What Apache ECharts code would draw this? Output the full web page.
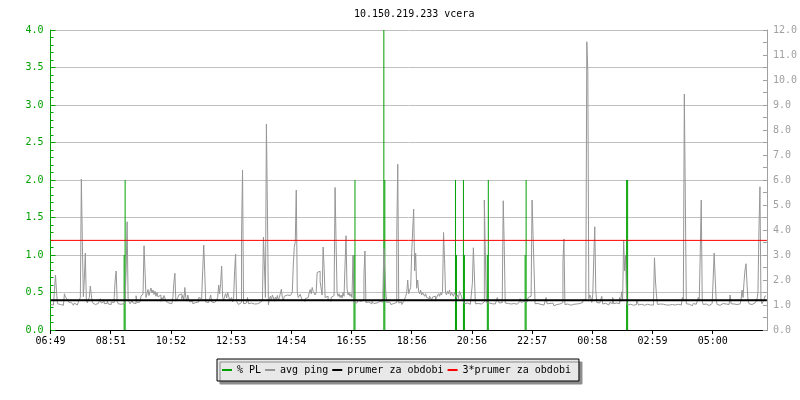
<!DOCTYPE html>
<html>
<head>
<meta charset="utf-8">
<script src="https://cdn.jsdelivr.net/npm/echarts@6/dist/echarts.min.js"></script>
<style>
html,body{margin:0;padding:0;background:#fff;}
#chart{width:800px;height:400px;}
</style>
</head>
<body>
<div id="chart"></div>
<script>
// ---- data ----
var titleText = '10.150.219.233 vcera';
var xTickLabels = ['06:49','08:51','10:52','12:53','14:54','16:55','18:56','20:56','22:57','00:58','02:59','05:00'];
var xTickStepMin = 121;      // minutes between labelled ticks
var xSpanMin = 1440;         // 24 h shown
var sampleStepMin = 2;       // one avg-ping sample every 2 minutes

// avg ping [ms], right axis, one value per sample
var avgPing = [
1.02,0.98,1.05,1.0,0.97,1.08,2.2,1.56,1.05,0.98,1.02,1.0,1.04,0.99,1.07,1.45,1.32,1.38,1.22,1.12,
1.05,1.1,1.02,1.06,0.99,1.08,1.03,1.0,1.06,1.12,1.04,1.3,6.04,3.53,1.33,2.04,3.08,1.2,1.08,1.12,
1.3,1.76,1.43,1.1,1.05,1.02,1.08,1.0,1.06,1.03,1.1,1.25,1.08,1.02,1.15,1.05,1.0,1.07,1.2,1.04,
1.08,1.02,1.12,1.06,1.1,1.3,2.0,2.36,1.15,1.05,1.08,1.03,1.06,1.1,1.05,1.12,1.25,2.36,4.33,1.2,
1.12,1.05,1.1,1.18,1.08,1.14,1.06,1.37,1.1,1.05,1.12,1.2,1.35,1.28,1.45,3.37,2.36,1.3,1.45,1.62,
1.38,1.55,1.68,1.48,1.6,1.42,1.55,1.35,1.5,1.33,1.25,1.4,1.15,1.3,1.2,1.38,1.28,1.15,1.12,1.08,
1.15,1.1,1.05,1.12,1.3,1.9,2.27,1.15,1.1,1.3,1.4,1.35,1.45,1.25,1.38,1.2,1.7,1.3,1.15,1.4,
1.22,1.12,1.08,1.15,1.05,1.12,1.1,1.18,1.06,1.12,1.3,1.38,1.25,1.4,1.32,3.4,2.33,1.12,1.05,1.1,
1.15,1.08,1.4,1.12,1.05,1.1,1.08,1.15,1.2,1.3,1.8,1.45,1.87,2.56,1.3,1.2,1.35,1.45,1.28,1.5,
1.35,1.2,1.15,1.3,1.12,1.25,2.33,3.04,1.15,1.08,1.02,1.06,1.1,3.72,6.4,1.05,1.0,1.08,1.03,1.3,
1.05,1.02,1.08,1.0,1.06,1.04,1.1,0.98,1.05,1.07,1.02,1.1,1.05,1.12,1.2,3.72,2.56,1.3,8.24,4.8,
1.0,1.25,1.35,1.2,1.4,1.28,1.15,1.32,1.22,1.38,1.2,1.3,1.25,1.63,1.3,1.2,1.35,1.28,1.4,1.35,
1.45,1.38,1.42,1.35,1.5,2.6,3.3,3.53,5.6,1.5,1.3,1.25,1.43,1.3,1.2,1.28,1.15,1.25,1.2,1.3,
1.25,1.5,1.62,1.45,1.7,1.55,1.6,1.4,1.5,2.3,2.25,2.35,1.93,1.9,1.4,3.32,2.47,1.3,1.25,1.35,
1.2,1.28,1.15,1.3,1.22,1.38,1.3,5.7,3.53,1.5,1.35,1.45,1.3,1.4,1.28,1.5,1.35,2.57,3.77,1.67,
1.4,1.5,1.35,1.45,1.3,3.0,1.1,1.15,1.08,1.12,1.18,1.1,1.15,1.08,1.12,1.2,2.17,3.16,1.1,1.05,
1.12,1.08,1.1,1.04,1.15,1.1,1.06,1.12,1.08,1.02,1.1,1.14,1.06,1.1,1.12,1.3,3.27,2.4,1.5,1.1,
1.05,1.12,1.08,1.02,1.1,1.06,1.12,1.05,1.1,3.83,6.63,1.08,1.05,1.12,1.02,1.1,1.15,1.08,1.35,1.5,
2.0,1.45,1.6,1.7,3.1,3.1,4.84,2.36,3.07,1.67,2.0,1.55,1.45,1.6,1.4,1.5,1.42,1.35,1.45,1.3,
1.38,1.25,1.35,1.3,1.2,1.32,1.25,1.35,1.2,1.3,1.28,1.45,1.35,1.5,1.4,1.55,3.9,2.87,1.5,1.4,
1.55,1.45,1.6,1.38,1.5,1.42,1.35,1.5,1.45,1.3,1.4,1.25,1.55,1.6,1.35,1.2,1.15,1.05,1.02,1.08,
1.0,1.06,1.03,1.08,1.1,1.87,3.29,2.2,1.05,1.0,1.06,1.02,1.08,1.04,1.0,1.07,1.12,5.2,3.13,1.1,
1.05,1.08,1.02,1.1,1.05,1.0,1.07,1.04,1.1,1.15,1.3,1.25,1.08,1.05,1.1,1.2,5.17,3.37,1.08,1.02,
1.06,1.0,1.08,1.04,1.1,1.02,1.06,1.0,1.08,1.03,1.1,1.05,1.12,1.25,1.1,1.05,1.15,1.1,1.08,1.12,
1.2,1.3,1.25,1.35,1.3,5.2,3.77,2.36,1.05,1.0,1.06,0.98,1.04,1.02,0.97,1.05,1.0,1.08,1.03,1.3,
1.05,1.0,1.06,0.98,1.04,1.08,1.0,0.97,1.05,1.02,1.07,0.99,1.04,1.0,1.06,1.1,2.73,3.64,1.02,0.98,
1.04,0.96,1.02,0.99,1.05,0.97,1.03,1.0,0.96,1.04,0.98,1.02,1.06,0.98,1.05,1.1,1.2,1.15,1.22,1.25,
11.53,10.33,1.25,1.4,1.3,1.1,1.43,2.89,4.13,1.6,1.1,1.05,1.08,1.02,1.06,1.35,1.04,1.0,1.07,1.03,
1.08,1.0,1.05,1.1,1.02,1.06,1.3,1.05,1.0,1.08,1.04,1.1,1.05,1.3,1.15,1.53,1.2,3.6,2.36,3.0,
1.1,1.0,0.98,1.03,0.97,1.02,0.99,1.05,0.98,1.02,1.2,1.15,1.0,0.97,1.03,0.98,1.04,0.99,1.02,0.97,
1.03,0.98,1.05,1.0,0.97,1.04,1.0,1.1,2.89,1.96,1.4,1.02,0.98,1.04,1.0,0.96,1.03,0.99,1.05,1.0,
0.97,1.03,1.0,1.06,0.98,1.02,0.97,1.04,1.0,1.06,0.99,1.03,0.98,1.05,1.0,1.04,1.3,1.2,9.44,5.29,
1.05,0.98,1.03,1.0,1.05,0.97,1.02,1.06,0.99,1.03,1.0,1.05,1.3,1.2,3.09,5.2,1.15,1.02,0.98,1.04,
1.0,1.05,0.98,1.03,1.0,1.06,1.02,1.1,3.08,2.07,1.2,1.02,1.05,0.99,1.03,1.0,1.06,1.02,0.98,1.04,
1.0,1.05,1.02,1.07,1.4,1.05,1.0,1.04,0.99,1.05,1.02,1.07,1.0,1.04,1.1,1.2,1.6,1.3,1.93,2.4,
2.65,1.84,1.2,1.05,1.1,1.02,1.06,1.0,1.08,1.04,1.1,1.2,1.53,4.04,5.73,1.2,1.05,1.1,1.2,1.36
];

// packet loss [%], left axis
var plMinutes = [148,150, 610,612, 670,672, 814,816, 830,832, 878,880, 954,956, 1158,1160];
var plValues  = [1,2,     1,2,     4,2,     2,1,     2,1,     1,2,     1,2,     2,2];

// period averages of avg ping (right axis)
var meanPing = 1.195;
var tripleMeanPing = 3.585;

// ---- build series data ----
var pingData = avgPing.map(function (v, i) { return [i * sampleStepMin, v]; });
var plData = plMinutes.map(function (m, i) { return [m, plValues[i]]; });
var meanData = [[0, meanPing], [xSpanMin, meanPing]];
var tripleData = [[0, tripleMeanPing], [xSpanMin, tripleMeanPing]];

var MONO = 'DejaVu Sans Mono';
var GREEN = '#00a000';
var GRAY = '#969696';
var AXGRAY = '#a0a0a0';

var chart = echarts.init(document.getElementById('chart'), null, {renderer: 'canvas'});
chart.setOption({
  animation: false,
  backgroundColor: '#ffffff',
  title: {
    text: titleText,
    left: 349, top: 4,
    textStyle: {fontFamily: MONO, fontSize: 10, fontWeight: 'normal', color: '#000'}
  },
  legend: {
    left: 217, top: 359,
    selectedMode: false,
    itemWidth: 10, itemHeight: 2, itemGap: 4,
    padding: [6, 8, 6, 5],
    backgroundColor: '#e8e8e8',
    borderColor: '#000', borderWidth: 1, borderRadius: 0,
    shadowColor: '#8c8c8c', shadowBlur: 0, shadowOffsetX: 3, shadowOffsetY: 3,
    textStyle: {fontFamily: MONO, fontSize: 10, color: '#000'},
    data: [
      {name: '% PL', icon: 'rect'},
      {name: 'avg ping', icon: 'rect'},
      {name: 'prumer za obdobi', icon: 'rect'},
      {name: '3*prumer za obdobi', icon: 'rect'}
    ]
  },
  grid: {left: 50.5, right: 29.5, top: 30, bottom: 70, containLabel: false},
  xAxis: {
    type: 'value', min: 0, max: xSpanMin, interval: xTickStepMin,
    axisLine: {show: true, lineStyle: {color: '#000', width: 1}},
    axisTick: {show: true, inside: false, length: 4, lineStyle: {color: '#000'}},
    axisLabel: {
      fontFamily: MONO, fontSize: 10, color: '#000', margin: 6,
      showMaxLabel: false,
      formatter: function (v) { var k = Math.round(v / xTickStepMin); return (Math.abs(v - k * xTickStepMin) < 0.01 && xTickLabels[k]) ? xTickLabels[k] : ''; }
    },
    splitLine: {show: false}
  },
  yAxis: [
    {
      type: 'value', position: 'left', min: 0, max: 4, interval: 0.5,
      axisLine: {show: true, lineStyle: {color: GREEN, width: 1}},
      axisTick: {show: true, inside: true, length: 5, lineStyle: {color: GREEN}},
      minorTick: {show: true, splitNumber: 5, length: 3, lineStyle: {color: GREEN}},
      axisLabel: {fontFamily: MONO, fontSize: 10, color: GREEN, margin: 7,
        formatter: function (v) { return v.toFixed(1); }},
      splitLine: {show: true, lineStyle: {color: '#c0c0c0', width: 1}}
    },
    {
      type: 'value', position: 'right', min: 0, max: 12, interval: 1,
      axisLine: {show: true, lineStyle: {color: AXGRAY, width: 1}},
      axisTick: {show: true, inside: true, length: 4, lineStyle: {color: AXGRAY}},
      minorTick: {show: true, splitNumber: 2, length: 4, lineStyle: {color: AXGRAY}},
      axisLabel: {fontFamily: MONO, fontSize: 10, color: AXGRAY, margin: 6,
        formatter: function (v) { return v.toFixed(1); }},
      splitLine: {show: false}
    }
  ],
  series: [
    {
      name: '% PL', type: 'bar', yAxisIndex: 0, data: plData,
      barWidth: 1, itemStyle: {color: GREEN}, silent: true
    },
    {
      name: 'avg ping', type: 'line', yAxisIndex: 1, data: pingData,
      step: 'start', showSymbol: false, symbol: 'none',
      lineStyle: {color: GRAY, width: 1}, itemStyle: {color: GRAY}, silent: true
    },
    {
      name: 'prumer za obdobi', type: 'line', yAxisIndex: 1, data: meanData,
      showSymbol: false, symbol: 'none',
      lineStyle: {color: '#000', width: 2}, itemStyle: {color: '#000'}, silent: true
    },
    {
      name: '3*prumer za obdobi', type: 'line', yAxisIndex: 1, data: tripleData,
      showSymbol: false, symbol: 'none',
      lineStyle: {color: '#ff0000', width: 1}, itemStyle: {color: '#ff0000'}, silent: true
    }
  ]
});
</script>
</body>
</html>
